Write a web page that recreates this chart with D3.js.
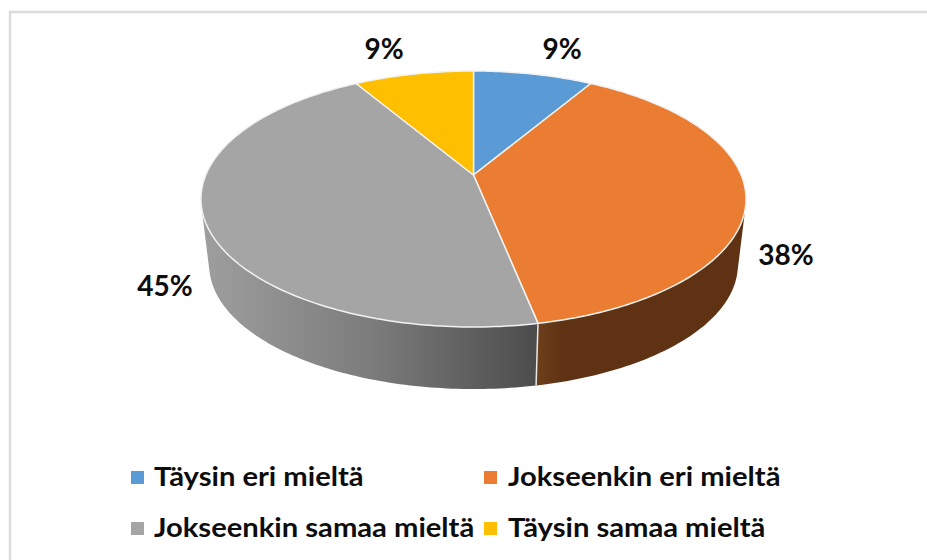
<!DOCTYPE html>
<html>
<head>
<meta charset="utf-8">
<script src="https://cdn.jsdelivr.net/npm/d3@7"></script>
<style>
  html, body { margin: 0; padding: 0; background: #fff; }
  text { font-family: Lato, "Open Sans", sans-serif; font-weight: 700; fill: #0d0d0d; }
</style>
</head>
<body>
<div id="chart"></div>
<script>
var categories = ["Täysin eri mieltä", "Jokseenkin eri mieltä", "Jokseenkin samaa mieltä", "Täysin samaa mieltä"];
var values = [8.5, 38.35, 44.65, 8.5];
var valueLabels = ["9%", "38%", "45%", "9%"];
var colors = ["#5b9bd5", "#ea7d31", "#a5a5a5", "#fdbf00"];

var svgWidth = 927;
var svgHeight = 560;

var svg = d3.select("#chart")
  .append("svg")
  .attr("width", svgWidth)
  .attr("height", svgHeight)
  .style("display", "block");

// frame, only top and left show in the picture
svg.append("path")
  .attr("d", "M10,560V12H927")
  .attr("fill", "none")
  .attr("stroke", "#dcdcdc")
  .attr("stroke-width", 2.5);

// Perspective of the pie disc
var centerX = 473.5, apexY = 175, radiusX = 267.7, radiusZ = 123.5, persp = 0.1875;
// the lower rim is a bit smaller and further down
var lowerScale = 0.97, lowerDrop = 66.6;

function project(angle, lower) {
  var x = Math.sin(angle), z = -Math.cos(angle);
  var w = 1 - persp * z;
  var s = lower ? lowerScale : 1;
  return [centerX + s * radiusX * x / w, apexY + s * radiusZ * z / w + (lower ? lowerDrop : 0)];
}

var arcs = d3.pie().sort(null)(values);
var line = d3.line();

function rimPoints(a0, a1, lower) {
  var n = Math.max(2, Math.ceil((a1 - a0) * 60));
  return d3.range(n + 1).map(function(i) {
    return project(a0 + (a1 - a0) * i / n, lower);
  });
}

// side gradients
var defs = svg.append("defs");
var sideStops = {
  1: { x1: 538, x2: 746, stops: [[0, "#6e3e1b"], [0.12, "#5e3213"], [1, "#5e3213"]] },
  2: { x1: 204, x2: 538, stops: [[0, "#9e9e9e"], [0.5, "#7c7c7c"], [1, "#4c4c4c"]] }
};
Object.keys(sideStops).forEach(function(k) {
  var s = sideStops[k];
  var g = defs.append("linearGradient")
    .attr("id", "side" + k)
    .attr("gradientUnits", "userSpaceOnUse")
    .attr("x1", s.x1).attr("x2", s.x2).attr("y1", 0).attr("y2", 0);
  g.selectAll("stop").data(s.stops).join("stop")
    .attr("offset", function(d) { return d[0]; })
    .attr("stop-color", function(d) { return d[1]; });
});

// sides first, the top surface covers what is behind.
// one quad per rim step so the outline follows the tangent between the two rims
svg.append("g").selectAll("path")
  .data(arcs.filter(function(d) { return sideStops[d.index]; }))
  .join("path")
  .attr("d", function(d) {
    var upper = rimPoints(d.startAngle, d.endAngle, false);
    var lower = rimPoints(d.startAngle, d.endAngle, true);
    return d3.range(upper.length - 1).map(function(i) {
      var quad = [upper[i], upper[i + 1], lower[i + 1], lower[i]];
      // keep every quad wound the same way so nothing cancels out
      if (d3.polygonArea(quad) < 0) quad.reverse();
      return line(quad) + "Z";
    }).join("");
  })
  .attr("fill", function(d) { return "url(#side" + d.index + ")"; });

// seam between the two sides
var seam = arcs[1].endAngle;
svg.append("path")
  .attr("d", line([project(seam, false), project(seam, true)]))
  .attr("stroke", "#e8e8e8")
  .attr("stroke-width", 1.5);

svg.append("g").selectAll("path")
  .data(arcs)
  .join("path")
  .attr("d", function(d) {
    return line([[centerX, apexY]].concat(rimPoints(d.startAngle, d.endAngle, false))) + "Z";
  })
  .attr("fill", function(d) { return colors[d.index]; })
  .attr("stroke", "#f2f2f2")
  .attr("stroke-width", 1.5)
  .attr("stroke-linejoin", "round");

// value labels
var labelAnchors = [[562, 59], [786, 265], [165, 296], [384, 59]];
svg.append("g").selectAll("text")
  .data(valueLabels)
  .join("text")
  .attr("x", function(d, i) { return labelAnchors[i][0]; })
  .attr("y", function(d, i) { return labelAnchors[i][1]; })
  .attr("text-anchor", "middle")
  .attr("font-size", 28)
  .text(function(d) { return d; });

// legend
var legendX = d3.scalePoint().domain([0, 1]).range([130, 483]);
var legendY = d3.scalePoint().domain([0, 1]).range([477, 528]);

var legend = svg.append("g").selectAll("g")
  .data(categories)
  .join("g")
  .attr("transform", function(d, i) {
    return "translate(" + legendX(i % 2) + "," + legendY(Math.floor(i / 2)) + ")";
  });

legend.append("rect")
  .attr("x", 1).attr("y", -6)
  .attr("width", 13).attr("height", 13)
  .attr("fill", function(d, i) { return colors[i]; });

// reference text is a little stretched sideways
legend.append("text")
  .attr("transform", function(d, i) { return "translate(" + (i % 2 ? 25 : 24) + ",9) scale(1.08,1)"; })
  .attr("font-size", 27)
  .text(function(d) { return d; });
</script>
</body>
</html>
